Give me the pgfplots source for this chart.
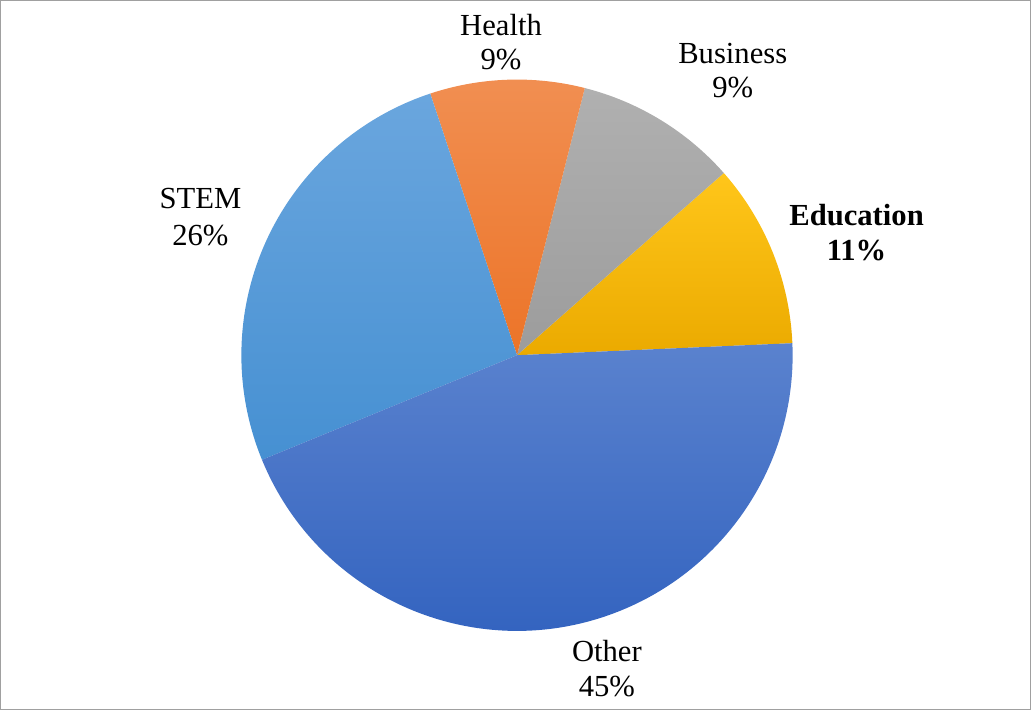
\documentclass[border=0pt]{standalone}
\usepackage{pgfplots}
\pgfplotsset{compat=1.18}
\usepackage{fontspec}
\setmainfont{Liberation Serif}
\definecolor{OtherT}{HTML}{5A82CE}
\definecolor{OtherB}{HTML}{2F60BE}
\definecolor{StemT}{HTML}{6AA6DE}
\definecolor{StemB}{HTML}{4690D2}
\definecolor{HealthT}{HTML}{F18F52}
\definecolor{HealthB}{HTML}{EC7428}
\definecolor{BusT}{HTML}{B0B0B0}
\definecolor{BusB}{HTML}{9C9C9C}
\definecolor{EduT}{HTML}{FFC61A}
\definecolor{EduB}{HTML}{EBAA00}
\definecolor{frame}{HTML}{A0A0A0}
% shares (percent), counter-clockwise from Education
\def\pEdu{10.8}
\def\pBus{9.55}
\def\pHealth{9.05}
\def\pStem{26.1}
\def\pOther{44.5}
\newcommand\pieslice[4]{%
  \shade[top color=#3,bottom color=#4] (axis cs:517,355) -- ++(#1:207pt)
    arc[start angle=#1, end angle=#2, radius=207pt] -- cycle;}
\newcommand\lbl[4][]{%
  \node[anchor=base,font=\fontsize{23}{26}\selectfont#1] at (axis cs:#2,{710-#3}) {#4};}
\begin{document}
\begin{tikzpicture}
\pgfmathsetmacro\aA{2.5}
\pgfmathsetmacro\aB{\aA+3.6*\pEdu}
\pgfmathsetmacro\aC{\aB+3.6*\pBus}
\pgfmathsetmacro\aD{\aC+3.6*\pHealth}
\pgfmathsetmacro\aE{\aD+3.6*\pStem}
\pgfmathsetmacro\aF{\aE+3.6*\pOther}
\begin{axis}[
  width=773.25pt, height=532.5pt, scale only axis,
  xmin=0, xmax=1031, ymin=0, ymax=710,
  ticks=none, axis line style={draw=frame, line width=1pt},
  clip=false]
\pieslice{\aA}{\aB}{EduT}{EduB}
\pieslice{\aB}{\aC}{BusT}{BusB}
\pieslice{\aC}{\aD}{HealthT}{HealthB}
\pieslice{\aD}{\aE}{StemT}{StemB}
\pieslice{\aE}{\aF}{OtherT}{OtherB}
\lbl{501}{35}{Health}
\lbl{501}{69}{9\%}
\lbl{733}{63}{Business}
\lbl{733}{97}{9\%}
\lbl[\bfseries]{857}{225}{Education}
\lbl[\bfseries]{857}{260}{11\%}
\lbl{200}{208}{STEM}
\lbl{200}{245}{26\%}
\lbl{607}{662}{Other}
\lbl{607}{697}{45\%}
\end{axis}
\end{tikzpicture}
\end{document}
